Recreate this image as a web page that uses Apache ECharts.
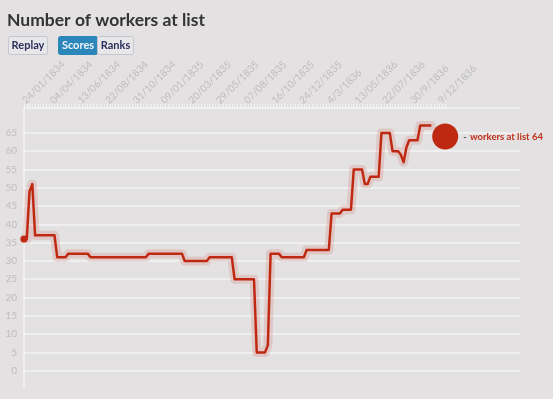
<!DOCTYPE html>
<html>
<head>
<meta charset="utf-8">
<script src="https://cdn.jsdelivr.net/npm/echarts@6/dist/echarts.min.js"></script>
<style>
html, body { margin: 0; padding: 0; background: #e3e1e2; }
#chart { width: 553px; height: 399px; }
</style>
</head>
<body>
<div id="chart"></div>
<script>
// axis labels, one every 10 weeks
var dateLabels = ['24/01/1834', '04/04/1834', '13/06/1834', '22/08/1834', '31/10/1834', '09/01/1835',
  '20/03/1835', '29/05/1835', '07/08/1835', '16/10/1835', '24/12/1835', '4/3/1836',
  '13/05/1836', '22/07/1836', '30/9/1836', '9/12/1836'];
var weekCount = 153;
var yTicks = [0, 5, 10, 15, 20, 25, 30, 35, 40, 45, 50, 55, 60, 65];

// workers at list, one value per week
var workers = [
  36, 36, 49, 51, 37, 37, 37, 37, 37, 37, 37, 37,
  31, 31, 31, 31, 32, 32, 32, 32, 32, 32, 32, 32,
  31, 31, 31, 31, 31, 31, 31, 31, 31, 31, 31, 31, 31, 31, 31, 31, 31, 31, 31, 31, 31,
  32, 32, 32, 32, 32, 32, 32, 32, 32, 32, 32, 32, 32,
  30, 30, 30, 30, 30, 30, 30, 30, 30,
  31, 31, 31, 31, 31, 31, 31, 31, 31,
  25, 25, 25, 25, 25, 25, 25, 25,
  5, 5, 5, 5, 7, 32, 32, 32, 32,
  31, 31, 31, 31, 31, 31, 31, 31, 31,
  33, 33, 33, 33, 33, 33, 33, 33, 33,
  43, 43, 43, 43, 44, 44, 44, 44, 55, 55, 55, 55,
  51, 51, 53, 53, 53, 53, 65, 65, 65, 65, 60, 60, 60,
  59, 57, 61, 63, 63, 63, 63, 67, 67, 67, 67, 67
];
var currentWeek = 152;
var currentValue = 64;

var lineData = workers.map(function (v, i) { return [i, v]; });
var weekTicks = [];
for (var i = 0; i < weekCount; i++) weekTicks.push(i);
var labelWeeks = dateLabels.map(function (d, i) { return i * 10; });

var red = '#bf2912';
var font = 'Lato';

var chart = echarts.init(document.getElementById('chart'));

// buttons above the chart
function button(x, w, text, active) {
  return {
    type: 'group',
    left: x, top: 36,
    children: [
      { type: 'rect', shape: { x: 0, y: 0, width: w, height: 18, r: 2 },
        style: { fill: active ? '#2b86ba' : '#e7e6e9', stroke: active ? '#2b86ba' : '#c6c6ce', lineWidth: 1 } },
      { type: 'text', x: w / 2, y: 9,
        style: { text: text, fill: active ? '#eef4fa' : '#2b2f5b', font: 'bold 11px ' + font, align: 'center', verticalAlign: 'middle' } }
    ]
  };
}

var option = {
  backgroundColor: '#e3e1e2',
  animation: false,
  title: {
    text: 'Number of workers at list',
    left: 2, top: 6,
    textStyle: { fontFamily: font, fontSize: 17.5, fontWeight: 'bold', color: '#333' }
  },
  graphic: [
    button(8, 39, 'Replay', false),
    button(58, 39, 'Scores', true),
    button(97, 36, 'Ranks', false)
  ],
  grid: { left: 24, right: 33, top: 108, bottom: 12, containLabel: false, outerBoundsMode: 'none' },
  xAxis: {
    type: 'value',
    position: 'top',
    min: 0, max: 179,
    axisLine: { show: true, onZero: false, lineStyle: { color: '#f4f3f3', width: 1.5 } },
    axisTick: { show: true, length: 4, customValues: weekTicks, lineStyle: { color: '#f4f3f3', width: 1 } },
    axisLabel: {
      customValues: labelWeeks,
      rotate: -45, margin: 6,
      color: '#bebcbd', fontSize: 10, fontFamily: font,
      formatter: function (v) { return dateLabels[Math.round(v / 10)] || ''; }
    },
    splitLine: { show: false }
  },
  yAxis: {
    type: 'value',
    min: -4.45, max: 71.8,
    axisLine: { show: true, onZero: false, lineStyle: { color: '#f4f3f3', width: 1.5 } },
    axisTick: { show: false, customValues: yTicks },
    axisLabel: { customValues: yTicks, margin: 7, color: '#bebcbd', fontSize: 10, fontFamily: font },
    splitLine: { show: true, lineStyle: { color: '#f4f3f3', width: 1.5 } }
  },
  series: [
    {
      type: 'line', data: lineData, silent: true, showSymbol: false, z: 1,
      lineStyle: { color: 'rgba(191,41,18,0.14)', width: 9, join: 'round', cap: 'round' }
    },
    {
      type: 'line', data: lineData, showSymbol: false, z: 2,
      lineStyle: { color: red, width: 2.5, join: 'round' }
    },
    {
      type: 'scatter', data: [lineData[0]], symbolSize: 7, z: 3,
      itemStyle: { color: red, opacity: 1 }
    },
    {
      type: 'scatter', data: [[currentWeek, currentValue]], symbolSize: 26, z: 3,
      itemStyle: { color: red, opacity: 1 },
      label: {
        show: true, position: 'right', distance: 5,
        formatter: '{d|-} {t|workers at list ' + currentValue + '}',
        rich: {
          d: { color: '#555', fontFamily: font, fontWeight: 'bold', fontSize: 9.5 },
          t: { color: '#c0301a', fontFamily: font, fontWeight: 'bold', fontSize: 9.5 }
        }
      }
    }
  ]
};

chart.setOption(option);
</script>
</body>
</html>
